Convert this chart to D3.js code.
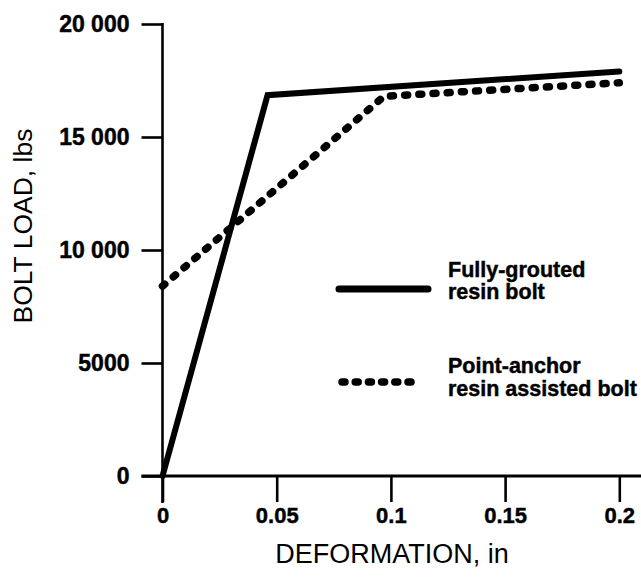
<!DOCTYPE html>
<html>
<head>
<meta charset="utf-8">
<script src="https://cdn.jsdelivr.net/npm/d3@7"></script>
<style>
  html, body { margin: 0; padding: 0; background: #fff; }
  svg { display: block; font-family: "Liberation Sans", Arial, Helvetica, sans-serif; }
</style>
</head>
<body>
<svg id="chart" width="641" height="577"></svg>
<script>
// Bolt load vs. deformation for two bolt types
const xTicks = [0, 0.05, 0.1, 0.15, 0.2];
const xTickLabels = ["0", "0.05", "0.1", "0.15", "0.2"];
const yTicks = [0, 5000, 10000, 15000, 20000];
const yTickLabels = ["0", "5000", "10 000", "15 000", "20 000"];

const groutedDeformation = [0, 0.046, 0.2];
const groutedLoad = [0, 16850, 17900];

const pointAnchorDeformation = [0, 0.097, 0.2];
const pointAnchorLoad = [8400, 16800, 17400];

const seriesNames = [
  ["Fully-grouted", "resin bolt"],
  ["Point-anchor", "resin assisted bolt"]
];

const xTitle = "DEFORMATION, in";
const yTitle = "BOLT LOAD, lbs";

const svg = d3.select("#chart");

const x = d3.scaleLinear().domain([0, 0.2]).range([162.5, 619.3]);
const y = d3.scaleLinear().domain([0, 20000]).range([476, 24]);

const ink = "#000";

// Heavier bold for tick and legend labels
function heavy(sel) {
  sel.attr("fill", ink)
    .attr("stroke", ink)
    .attr("stroke-width", 0.45)
    .style("font-weight", "bold");
}

// Y axis: ticks + labels
const yAxis = d3.axisLeft(y)
  .tickValues(yTicks)
  .tickFormat((d, i) => yTickLabels[i])
  .tickSize(21)
  .tickSizeOuter(0)
  .tickPadding(12);
const gy = svg.append("g").attr("transform", `translate(${x(0)},0)`).call(yAxis);
gy.select(".domain").remove();
gy.selectAll(".tick line").attr("stroke", ink).attr("stroke-width", 2.6);
gy.selectAll(".tick text")
  .call(heavy)
  .style("font-size", "23px")
  .attr("dy", "0.33em");

// X axis: ticks + labels
const xAxis = d3.axisBottom(x)
  .tickValues(xTicks)
  .tickFormat((d, i) => xTickLabels[i])
  .tickSize(26)
  .tickSizeOuter(0);
const gx = svg.append("g").attr("transform", `translate(0,${y(0)})`).call(xAxis);
gx.select(".domain").remove();
gx.selectAll(".tick line").attr("stroke", ink).attr("stroke-width", 2.6);
gx.selectAll(".tick text")
  .call(heavy)
  .attr("y", 47)
  .attr("dy", null)
  .style("font-size", "22px");

// Axis lines
svg.append("line")
  .attr("x1", x(0)).attr("x2", x(0))
  .attr("y1", y(20000) - 1).attr("y2", y(0) + 27)
  .attr("stroke", ink).attr("stroke-width", 2.6);
svg.append("line")
  .attr("x1", x(0) - 21).attr("x2", 641)
  .attr("y1", y(0)).attr("y2", y(0))
  .attr("stroke", ink).attr("stroke-width", 3);

// Axis titles
svg.append("text")
  .attr("x", 392).attr("y", 563)
  .attr("text-anchor", "middle")
  .style("font-size", "27px")
  .attr("fill", ink)
  .text(xTitle);

svg.append("text")
  .attr("transform", "translate(32,226) rotate(-90)")
  .attr("text-anchor", "middle")
  .style("font-size", "26.5px")
  .attr("fill", ink)
  .text(yTitle);

// Series lines
const line = d3.line().x(d => x(d[0])).y(d => y(d[1]));

const grouted = groutedDeformation.map((d, i) => [d, groutedLoad[i]]);
const pointAnchor = pointAnchorDeformation.map((d, i) => [d, pointAnchorLoad[i]]);

svg.append("path")
  .datum(pointAnchor)
  .attr("d", line)
  .attr("fill", "none")
  .attr("stroke", ink)
  .attr("stroke-width", 7.5)
  .attr("stroke-linecap", "round")
  .attr("stroke-dasharray", "3 11.2");

svg.append("path")
  .datum(grouted)
  .attr("d", line)
  .attr("fill", "none")
  .attr("stroke", ink)
  .attr("stroke-width", 6)
  .attr("stroke-linejoin", "miter")
  .attr("stroke-linecap", "round");

// Legend
const legend = svg.append("g");
const legendRows = [
  { top: 276.5, lineY: 289, x1: 339, x2: 428, dash: null, width: 7 },
  { top: 373, lineY: 382, x1: 342, x2: 421, dash: "3 10.2", width: 7.5 }
];
legendRows.forEach((r, i) => {
  legend.append("line")
    .attr("x1", r.x1).attr("x2", r.x2)
    .attr("y1", r.lineY).attr("y2", r.lineY)
    .attr("stroke", ink)
    .attr("stroke-width", r.width)
    .attr("stroke-linecap", "round")
    .attr("stroke-dasharray", r.dash);
  seriesNames[i].forEach((s, j) => {
    legend.append("text")
      .attr("x", 448)
      .attr("y", r.top + j * 22.5)
      .call(heavy)
      .style("font-size", "21.5px")
      .text(s);
  });
});
</script>
</body>
</html>
